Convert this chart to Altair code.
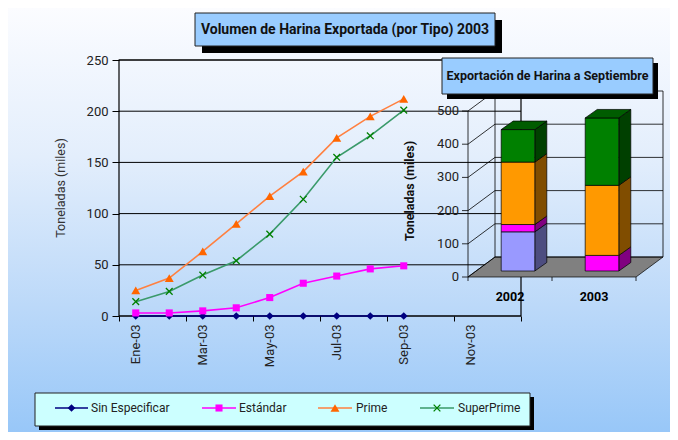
import json
import pandas as pd
import altair as alt

# ---------------- data ----------------
months = ["Ene-03", "Feb-03", "Mar-03", "Abr-03", "May-03", "Jun-03", "Jul-03", "Ago-03", "Sep-03"]
x_tick_labels = ["Ene-03", "Mar-03", "May-03", "Jul-03", "Sep-03", "Nov-03"]
series = ["Sin Especificar", "Estándar", "Prime", "SuperPrime"]
sin_especificar = [0, 0, 0, 0, 0, 0, 0, 0, 0]
estandar = [3, 3, 5, 8, 18, 32, 39, 46, 49]
prime = [25, 37, 63, 90, 117, 141, 174, 195, 212]
superprime = [14, 24, 40, 54, 80, 114, 155, 176, 201]
y_ticks = [0, 50, 100, 150, 200, 250]

inset_years = ["2002", "2003"]
inset_2002 = [118, 22, 188, 98]
inset_2003 = [0, 47, 211, 203]
inset_ticks = [0, 100, 200, 300, 400, 500]

title_main = "Volumen de Harina Exportada (por Tipo) 2003"
title_inset = "Exportación de Harina a Septiembre"
y_title = "Toneladas (miles)"

# ---------------- styles / layout ----------------
W, H = 402, 256
PL, PT = 111, 52
PR = 662 - PL - W
PB = 424 - PT - H
FONT = "Roboto, Liberation Sans, sans-serif"

line_colors = ["#000080", "#FF00FF", "#FF8040", "#3A9A6A"]
front_colors = ["#9999FF", "#FF00FF", "#FF9900", "#008000"]
side_colors = ["#4D4D80", "#800080", "#804D00", "#004000"]
top_color = "#005C00"
X_PATH = "M-1,-1L1,1M-1,1L1,-1"
marker_styles = [
    dict(shape="diamond", size=60, color="#000080", filled=True),
    dict(shape="square", size=50, color="#FF00FF", filled=True),
    dict(shape="triangle-up", size=80, color="#FF6600", filled=True),
    dict(shape=X_PATH, size=45, color="#008000", filled=False, strokeWidth=1.3),
]

one = pd.DataFrame({"k": [0]})

# ---------------- main chart ----------------
rows = []
for s, vals in zip(series, [sin_especificar, estandar, prime, superprime]):
    for i, (m, v) in enumerate(zip(months, vals)):
        rows.append({"series": s, "month": m, "mx": i + 0.5, "v": v})
df = pd.DataFrame(rows)

x_axis = alt.Axis(values=list(range(0, 13, 2)),
                  labelExpr=json.dumps(x_tick_labels) + "[datum.value / 2] || ''",
                  labelOffset=W / 24, labelAngle=270, labelAlign="right", labelBaseline="middle",
                  labelPadding=3, tickSize=5, tickColor="black", domain=False,
                  grid=False, title=None, labelFont=FONT, labelFontSize=13,
                  labelColor="#222222", zindex=1)
y_axis = alt.Axis(values=y_ticks, tickSize=7, tickColor="black", domain=False,
                  grid=False, title=None, labelFont=FONT, labelFontSize=13,
                  labelColor="#222222", labelPadding=4, zindex=1)


def MX(f):
    return alt.X(f"{f}:Q", scale=alt.Scale(domain=[0, 12], nice=False, zero=False), axis=x_axis)


def MY(f):
    return alt.Y(f"{f}:Q", scale=alt.Scale(domain=[0, 250], nice=False, zero=False), axis=y_axis)


grad = alt.Gradient(gradient="linear",
                    stops=[alt.GradientStop(offset=0, color="#FBFCFF"),
                           alt.GradientStop(offset=0.35, color="#E3EEFC"),
                           alt.GradientStop(offset=0.7, color="#BCD9F9"),
                           alt.GradientStop(offset=1, color="#98C7F8")],
                    x1=0, y1=0, x2=0, y2=1)

bg = alt.Chart(one).mark_rect(fill=grad).encode(
    x=alt.value(-PL), x2=alt.value(W + PR), y=alt.value(-PT), y2=alt.value(H + PB))

grid = alt.Chart(pd.DataFrame({"g": y_ticks})).mark_rule(color="black", strokeWidth=1).encode(
    y=MY("g"), x=alt.value(0), x2=alt.value(W))

border = alt.Chart(one).mark_rect(fillOpacity=0, stroke="black", strokeWidth=1.2).encode(
    x=alt.value(0), x2=alt.value(W), y=alt.value(0), y2=alt.value(H))

lines = alt.Chart(df).mark_line(strokeWidth=1.6).encode(
    x=MX("mx"), y=MY("v"),
    stroke=alt.Stroke("series:N", scale=alt.Scale(domain=series, range=line_colors), legend=None))

pts = []
for s, st in zip(series, marker_styles):
    pts.append(alt.Chart(df).transform_filter(alt.datum.series == s)
               .mark_point(opacity=1, **st).encode(x=MX("mx"), y=MY("v")))

main = alt.layer(bg, grid, border, lines, *pts)

# ---------------- inset (3D stacked bars) ----------------
UX = 84.0            # px per category slot
UY = 166.0 / 500.0   # px per unit
BW = 0.4
BDX, BDY = 12 / UX, 8.5 / UY      # bar depth
FX, FY = -8 / UX, -6 / UY         # front plane offset
BX, BY = 19 / UX, 14 / UY         # back wall offset


def IX(f):
    return alt.X(f"{f}:Q", scale=alt.Scale(domain=[0, 2], range=[357, 525], nice=False, zero=False), axis=None)


def IY(f):
    return alt.Y(f"{f}:Q", scale=alt.Scale(domain=[0, 500], range=[211, 45], nice=False, zero=False), axis=None)


floor_df = pd.DataFrame([{"iy": FY, "ix": FX, "ix2": FX + 2}, {"iy": BY, "ix": BX, "ix2": BX + 2}])
floor = alt.Chart(floor_df).mark_area(orient="horizontal", color="#808080", stroke="black",
                                      strokeWidth=0.7, opacity=1).encode(
    y=IY("iy"), x=IX("ix"), x2=alt.X2("ix2"))

back_df = pd.DataFrame([{"ix": BX, "ix2": BX + 2, "iy": t + BY} for t in inset_ticks])
back = alt.Chart(back_df).mark_rule(color="black", strokeWidth=0.8).encode(
    x=IX("ix"), x2=alt.X2("ix2"), y=IY("iy"))

diag_df = pd.DataFrame([{"ix": FX, "iy": t + FY, "ix2": BX, "iy2": t + BY} for t in inset_ticks])
diag = alt.Chart(diag_df).mark_rule(color="black", strokeWidth=0.8).encode(
    x=IX("ix"), x2=alt.X2("ix2"), y=IY("iy"), y2=alt.Y2("iy2"))

vert_df = pd.DataFrame([{"ix": FX, "iy": FY, "iy2": inset_ticks[-1] + FY},
                        {"ix": BX, "iy": BY, "iy2": inset_ticks[-1] + BY},
                        {"ix": BX + 2, "iy": BY, "iy2": inset_ticks[-1] + BY}])
vert = alt.Chart(vert_df).mark_rule(color="black", strokeWidth=0.8).encode(
    x=IX("ix"), y=IY("iy"), y2=alt.Y2("iy2"))

ytick_df = pd.DataFrame([{"ix": FX - 6 / UX, "ix2": FX, "iy": t + FY, "lab": str(t)} for t in inset_ticks])
ytick = alt.Chart(ytick_df).mark_rule(color="black", strokeWidth=0.8).encode(
    x=IX("ix"), x2=alt.X2("ix2"), y=IY("iy"))
ylab = alt.Chart(ytick_df).mark_text(align="right", baseline="middle", dx=-3, font=FONT,
                                     fontSize=13, color="#222222").encode(
    x=IX("ix"), y=IY("iy"), text="lab:N")

ctick_df = pd.DataFrame([{"ix": FX + k, "iy": FY, "iy2": FY - 4 / UY} for k in range(3)])
ctick = alt.Chart(ctick_df).mark_rule(color="black", strokeWidth=0.8).encode(
    x=IX("ix"), y=IY("iy"), y2=alt.Y2("iy2"))
clab_df = pd.DataFrame([{"ix": FX + k + 0.5, "iy": FY, "lab": yr} for k, yr in enumerate(inset_years)])
clab = alt.Chart(clab_df).mark_text(baseline="middle", dy=20, font=FONT, fontSize=12.5,
                                    fontWeight="bold", color="black").encode(
    x=IX("ix"), y=IY("iy"), text="lab:N")

front_rows, side_rows, top_rows = [], [], []
for yi, vals in enumerate([inset_2002, inset_2003]):
    lo = 0
    left, right = yi + 0.5 - BW / 2, yi + 0.5 + BW / 2
    for t, v in zip(series, vals):
        if v > 0:
            hi = lo + v
            seg = f"{yi}-{t}"
            front_rows.append({"type": t, "ix": left, "ix2": right, "iy": lo, "iy2": hi})
            side_rows.append({"seg": seg, "type": t, "ix": right, "iy": lo, "iy2": hi})
            side_rows.append({"seg": seg, "type": t, "ix": right + BDX, "iy": lo + BDY, "iy2": hi + BDY})
            lo = hi
    top_rows.append({"bar": yi, "iy": lo, "ix": left, "ix2": right})
    top_rows.append({"bar": yi, "iy": lo + BDY, "ix": left + BDX, "ix2": right + BDX})

sides = alt.Chart(pd.DataFrame(side_rows)).mark_area(orient="vertical", stroke="black",
                                                     strokeWidth=0.7, opacity=1).encode(
    x=IX("ix"), y=IY("iy"), y2=alt.Y2("iy2"),
    color=alt.Color("type:N", scale=alt.Scale(domain=series, range=side_colors), legend=None),
    detail="seg:N")
fronts = alt.Chart(pd.DataFrame(front_rows)).mark_rect(stroke="black", strokeWidth=0.7, opacity=1).encode(
    x=IX("ix"), x2=alt.X2("ix2"), y=IY("iy"), y2=alt.Y2("iy2"),
    fill=alt.Fill("type:N", scale=alt.Scale(domain=series, range=front_colors), legend=None))
tops = alt.Chart(pd.DataFrame(top_rows)).mark_area(orient="horizontal", color=top_color, stroke="black",
                                                   strokeWidth=0.7, opacity=1).encode(
    y=IY("iy"), x=IX("ix"), x2=alt.X2("ix2"), detail="bar:N")

inset = alt.layer(floor, back, diag, vert, ytick, ylab, ctick, clab, sides, fronts, tops)

# ---------------- decorations: title boxes, axis titles, legend ----------------
def box(x0, y0, x1, y1, fill, shadow):
    sh = alt.Chart(one).mark_rect(color="black").encode(
        x=alt.value(x0 + shadow), x2=alt.value(x1 + shadow), y=alt.value(y0 + shadow), y2=alt.value(y1 + shadow))
    bx = alt.Chart(one).mark_rect(fill=fill, stroke="#222222", strokeWidth=1).encode(
        x=alt.value(x0), x2=alt.value(x1), y=alt.value(y0), y2=alt.value(y1))
    return [sh, bx]


def label(txt, x, y, size, weight="normal", color="#111111", angle=0, align="center"):
    return alt.Chart(one).mark_text(text=txt, font=FONT, fontSize=size, fontWeight=weight, color=color,
                                    angle=angle, align=align, baseline="middle").encode(
        x=alt.value(x), y=alt.value(y))


deco = []
deco += box(76, -47, 376, -14, "#99CCFF", 7)
deco.append(label(title_main, 226, -30.5, 14, "bold"))
deco += box(323, -2, 534, 34, "#99CCFF", 5)
deco.append(label(title_inset, 428.5, 16, 12.5, "bold"))
deco.append(label(y_title, -58, 128, 12.5, "normal", "#333333", 270))
deco.append(label(y_title, 291, 131, 12.5, "bold", "#111111", 270))

deco += box(-84, 333, 411, 366, "#CCFFFF", 4)
leg_line_x = [(-64, -31), (83, 117), (199, 233), (301, 335)]
leg_text_x = [-28, 120, 237, 339]
leg_y = 348
for s, lc, (a, b), tx, st in zip(series, line_colors, leg_line_x, leg_text_x, marker_styles):
    deco.append(alt.Chart(one).mark_rule(color=lc, strokeWidth=1.6).encode(
        x=alt.value(a), x2=alt.value(b), y=alt.value(leg_y)))
    deco.append(alt.Chart(one).mark_point(opacity=1, **st).encode(
        x=alt.value((a + b) / 2), y=alt.value(leg_y)))
    deco.append(label(s, tx, leg_y, 12, "normal", "#222222", 0, "left"))

deco_layer = alt.layer(*deco)

chart = alt.layer(main, inset, deco_layer).resolve_scale(
    x="independent", y="independent"
).properties(
    width=W, height=H,
    padding={"left": PL, "top": PT, "right": PR, "bottom": PB},
    autosize=alt.AutoSizeParams(type="none"),
    background="white",
).configure_view(stroke="transparent")

chart.save("out.html", embed_options={"renderer": "svg", "actions": False})
